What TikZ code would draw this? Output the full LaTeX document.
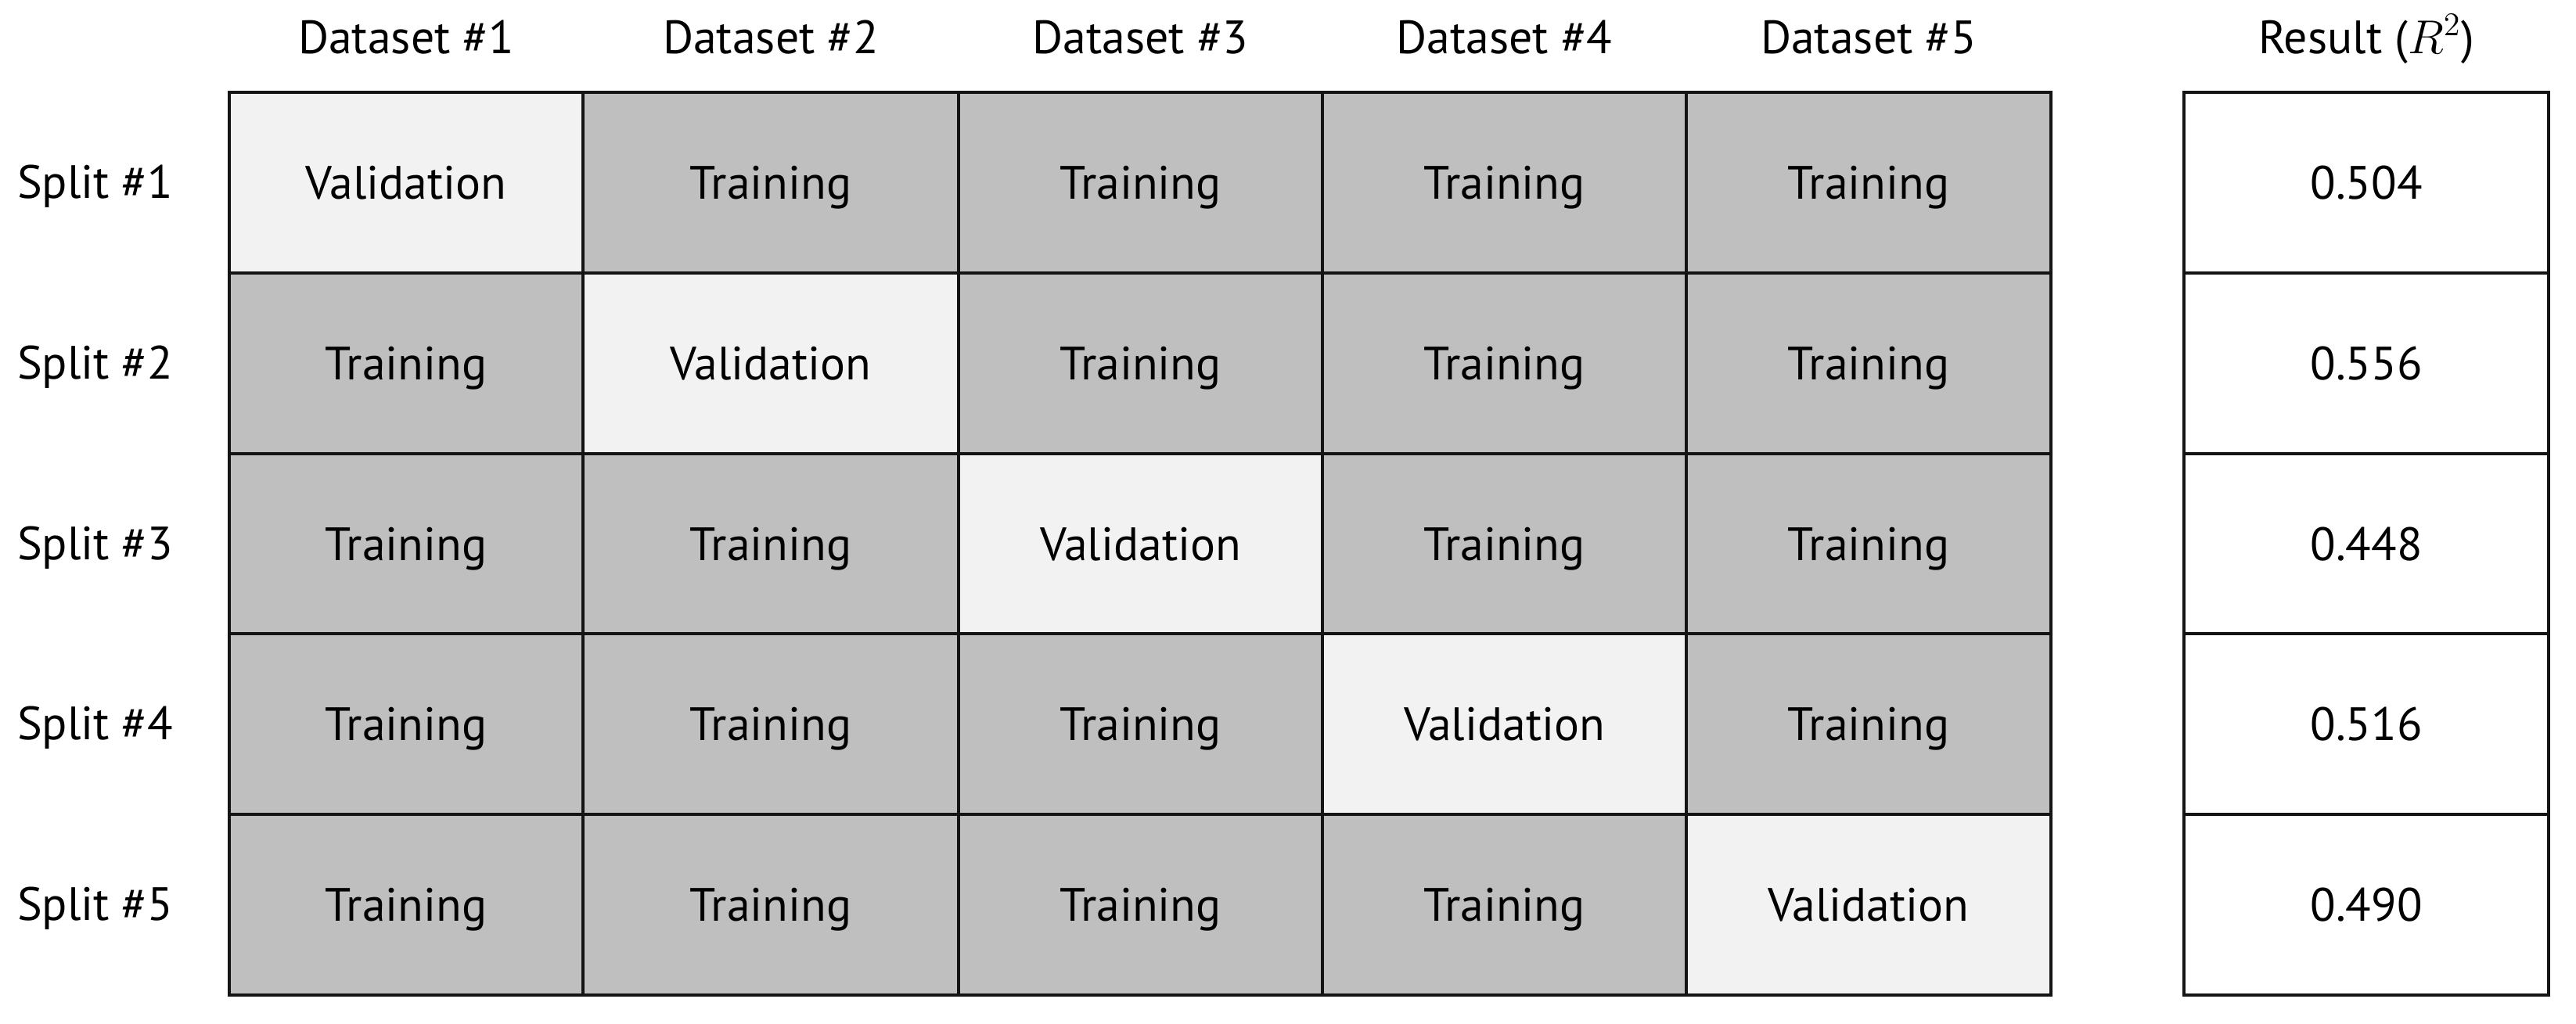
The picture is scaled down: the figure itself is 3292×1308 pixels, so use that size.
\documentclass[tikz,border=0pt]{standalone}
\usepackage{fontspec}
\setmainfont{PT Sans}
\definecolor{trgray}{RGB}{191,191,191}
\definecolor{valgray}{RGB}{242,242,242}
\definecolor{edge}{RGB}{20,20,20}
\begin{document}
\begin{tikzpicture}[x=0.01cm,y=-0.01cm,
  txt/.style={font=\fontsize{17}{20}\selectfont},
  cell/.style={txt, draw=edge, line width=1.15pt, inner sep=0pt, outer sep=0pt, text height=12pt, text depth=0pt},
  train/.style={cell, fill=trgray},
  valid/.style={cell, fill=valgray},
  res/.style={cell, fill=white},
  lab/.style={txt, inner sep=0pt, outer sep=0pt}]
\useasboundingbox (0,0) rectangle (3292,1308);
% grid cells
\foreach \r in {1,...,5}{
  \foreach \c in {1,...,5}{
    \pgfmathsetmacro\xa{{293,745,1225,1690,2155,2621}[\c-1]}
    \pgfmathsetmacro\xb{{293,745,1225,1690,2155,2621}[\c]}
    \pgfmathsetmacro\ya{{118,349,580,810,1041,1272}[\r-1]}
    \pgfmathsetmacro\yb{{118,349,580,810,1041,1272}[\r]}
    \pgfmathsetmacro\w{(\xb-\xa)*0.01}
    \pgfmathsetmacro\h{(\yb-\ya)*0.01}
    \ifnum\r=\c
      \node[valid, minimum width=\w cm, minimum height=\h cm] (c\r\c) at ({(\xa+\xb)/2},{(\ya+\yb)/2}) {Validation};
    \else
      \node[train, minimum width=\w cm, minimum height=\h cm] (c\r\c) at ({(\xa+\xb)/2},{(\ya+\yb)/2}) {Training};
    \fi
  }
}
% result column
\foreach \r/\v in {1/0.504,2/0.556,3/0.448,4/0.516,5/0.490}{
  \pgfmathsetmacro\ya{{118,349,580,810,1041,1272}[\r-1]}
  \pgfmathsetmacro\yb{{118,349,580,810,1041,1272}[\r]}
  \pgfmathsetmacro\h{(\yb-\ya)*0.01}
  \node[res, minimum width=4.66cm, minimum height=\h cm] (res\r) at (3024,{(\ya+\yb)/2}) {\v};
}
% column headers
\foreach \c in {1,...,5}{
  \pgfmathsetmacro\xa{{293,745,1225,1690,2155,2621}[\c-1]}
  \pgfmathsetmacro\xb{{293,745,1225,1690,2155,2621}[\c]}
  \node[lab, anchor=base] (head\c) at ({(\xa+\xb)/2},68) {Dataset \#\c};
}
\node[lab, anchor=base] (headres) at (3024,68) {Result ($R^2$)};
% row labels
\foreach \r in {1,...,5}{
  \pgfmathsetmacro\ya{{118,349,580,810,1041,1272}[\r-1]}
  \pgfmathsetmacro\yb{{118,349,580,810,1041,1272}[\r]}
  \node[lab, anchor=base west] (split\r) at (22,{(\ya+\yb)/2+20}) {Split \#\r};
}
\end{tikzpicture}
\end{document}
